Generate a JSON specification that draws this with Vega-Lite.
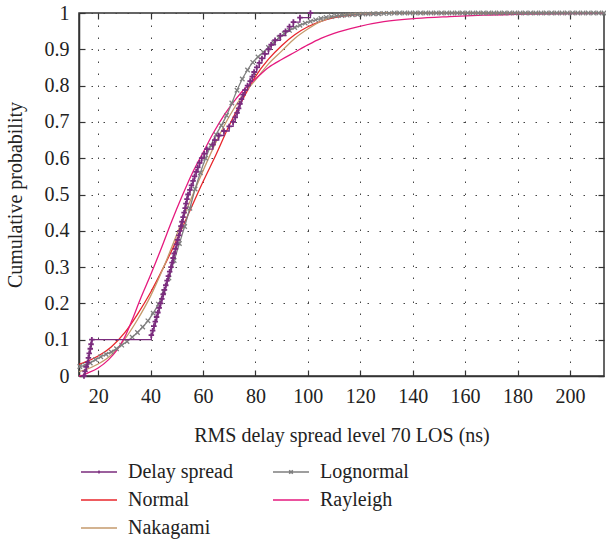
{
  "$schema": "https://vega.github.io/schema/vega-lite/v6.json",
  "width": 525,
  "height": 363,
  "autosize": {"type": "none"},
  "padding": {"left": 79, "top": 13, "right": 2, "bottom": 165},
  "background": "white",
  "config": {
    "view": {"stroke": "#333", "strokeWidth": 1.5},
    "font": "Liberation Serif, serif",
    "axis": {"labelFont": "Liberation Serif, serif", "titleFont": "Liberation Serif, serif", "labelColor": "#222", "titleColor": "#222", "titleFontWeight": "normal", "labelFontSize": 20, "titleFontSize": 20},
    "legend": {"labelFont": "Liberation Serif, serif"}
  },
  "data": {"values": [
    {"s":"Delay spread","x":14.6,"p":0},{"s":"Delay spread","x":15.0,"p":0.0125},{"s":"Delay spread","x":15.5,"p":0.025},{"s":"Delay spread","x":16.0,"p":0.0375},{"s":"Delay spread","x":16.3,"p":0.05},{"s":"Delay spread","x":16.6,"p":0.0625},{"s":"Delay spread","x":17.0,"p":0.075},{"s":"Delay spread","x":17.3,"p":0.0875},{"s":"Delay spread","x":17.6,"p":0.1},
    {"s":"Delay spread","x":40.3,"p":0.1125},{"s":"Delay spread","x":40.8,"p":0.125},{"s":"Delay spread","x":41.3,"p":0.1375},{"s":"Delay spread","x":41.8,"p":0.15},{"s":"Delay spread","x":42.3,"p":0.1625},{"s":"Delay spread","x":42.8,"p":0.175},{"s":"Delay spread","x":43.3,"p":0.1875},{"s":"Delay spread","x":43.8,"p":0.2},
    {"s":"Delay spread","x":44.3,"p":0.2125},{"s":"Delay spread","x":44.8,"p":0.225},{"s":"Delay spread","x":45.3,"p":0.2375},{"s":"Delay spread","x":45.8,"p":0.25},{"s":"Delay spread","x":46.3,"p":0.2625},{"s":"Delay spread","x":46.8,"p":0.275},{"s":"Delay spread","x":47.3,"p":0.2875},{"s":"Delay spread","x":47.8,"p":0.3},
    {"s":"Delay spread","x":48.2,"p":0.3125},{"s":"Delay spread","x":48.6,"p":0.325},{"s":"Delay spread","x":49.0,"p":0.3375},{"s":"Delay spread","x":49.5,"p":0.35},{"s":"Delay spread","x":49.9,"p":0.3625},{"s":"Delay spread","x":50.3,"p":0.375},{"s":"Delay spread","x":50.8,"p":0.3875},{"s":"Delay spread","x":51.2,"p":0.4},
    {"s":"Delay spread","x":51.6,"p":0.4125},{"s":"Delay spread","x":52.0,"p":0.425},{"s":"Delay spread","x":52.4,"p":0.4375},{"s":"Delay spread","x":52.8,"p":0.45},{"s":"Delay spread","x":53.2,"p":0.4625},{"s":"Delay spread","x":53.5,"p":0.475},{"s":"Delay spread","x":53.9,"p":0.4875},{"s":"Delay spread","x":54.3,"p":0.5},
    {"s":"Delay spread","x":55.0,"p":0.5125},{"s":"Delay spread","x":55.6,"p":0.525},{"s":"Delay spread","x":56.2,"p":0.5375},{"s":"Delay spread","x":56.8,"p":0.55},{"s":"Delay spread","x":57.4,"p":0.5625},{"s":"Delay spread","x":58.0,"p":0.575},{"s":"Delay spread","x":58.7,"p":0.5875},{"s":"Delay spread","x":59.5,"p":0.6},
    {"s":"Delay spread","x":60.5,"p":0.6125},{"s":"Delay spread","x":61.5,"p":0.625},{"s":"Delay spread","x":63.8,"p":0.6375},{"s":"Delay spread","x":64.5,"p":0.65},{"s":"Delay spread","x":66.0,"p":0.6625},{"s":"Delay spread","x":68.0,"p":0.675},{"s":"Delay spread","x":70.0,"p":0.6875},{"s":"Delay spread","x":71.5,"p":0.7},
    {"s":"Delay spread","x":72.3,"p":0.7125},{"s":"Delay spread","x":73.0,"p":0.725},{"s":"Delay spread","x":73.6,"p":0.7375},{"s":"Delay spread","x":74.1,"p":0.75},{"s":"Delay spread","x":74.7,"p":0.7625},{"s":"Delay spread","x":75.3,"p":0.775},{"s":"Delay spread","x":76.0,"p":0.7875},{"s":"Delay spread","x":77.0,"p":0.8},
    {"s":"Delay spread","x":78.0,"p":0.8125},{"s":"Delay spread","x":78.8,"p":0.825},{"s":"Delay spread","x":79.5,"p":0.8375},{"s":"Delay spread","x":80.5,"p":0.85},{"s":"Delay spread","x":81.5,"p":0.8625},{"s":"Delay spread","x":82.5,"p":0.875},{"s":"Delay spread","x":83.6,"p":0.8875},{"s":"Delay spread","x":85.0,"p":0.9},
    {"s":"Delay spread","x":86.0,"p":0.9125},{"s":"Delay spread","x":87.5,"p":0.925},{"s":"Delay spread","x":89.5,"p":0.9375},{"s":"Delay spread","x":91.5,"p":0.95},{"s":"Delay spread","x":93.0,"p":0.9625},{"s":"Delay spread","x":94.5,"p":0.975},{"s":"Delay spread","x":97.0,"p":0.9875},{"s":"Delay spread","x":101.0,"p":1.0},

    {"s":"Normal","x":12.7,"p":0.032},{"s":"Normal","x":15,"p":0.038},{"s":"Normal","x":20,"p":0.055},{"s":"Normal","x":25,"p":0.08},{"s":"Normal","x":30,"p":0.118},{"s":"Normal","x":35,"p":0.17},{"s":"Normal","x":40,"p":0.23},{"s":"Normal","x":45,"p":0.3},{"s":"Normal","x":50,"p":0.375},{"s":"Normal","x":55,"p":0.455},{"s":"Normal","x":60,"p":0.535},{"s":"Normal","x":65,"p":0.61},{"s":"Normal","x":70,"p":0.69},{"s":"Normal","x":75,"p":0.76},{"s":"Normal","x":80,"p":0.825},{"s":"Normal","x":85,"p":0.873},{"s":"Normal","x":90,"p":0.91},{"s":"Normal","x":95,"p":0.94},{"s":"Normal","x":100,"p":0.962},{"s":"Normal","x":105,"p":0.977},{"s":"Normal","x":110,"p":0.987},{"s":"Normal","x":115,"p":0.993},{"s":"Normal","x":120,"p":0.996},{"s":"Normal","x":130,"p":0.999},{"s":"Normal","x":140,"p":1.0},{"s":"Normal","x":213,"p":1.0},

    {"s":"Nakagami","x":12.7,"p":0.012},{"s":"Nakagami","x":15,"p":0.017},{"s":"Nakagami","x":20,"p":0.033},{"s":"Nakagami","x":25,"p":0.058},{"s":"Nakagami","x":30,"p":0.1},{"s":"Nakagami","x":35,"p":0.155},{"s":"Nakagami","x":40,"p":0.22},{"s":"Nakagami","x":45,"p":0.3},{"s":"Nakagami","x":50,"p":0.39},{"s":"Nakagami","x":55,"p":0.48},{"s":"Nakagami","x":60,"p":0.565},{"s":"Nakagami","x":65,"p":0.645},{"s":"Nakagami","x":70,"p":0.715},{"s":"Nakagami","x":75,"p":0.772},{"s":"Nakagami","x":80,"p":0.815},{"s":"Nakagami","x":85,"p":0.86},{"s":"Nakagami","x":90,"p":0.895},{"s":"Nakagami","x":95,"p":0.93},{"s":"Nakagami","x":100,"p":0.956},{"s":"Nakagami","x":105,"p":0.977},{"s":"Nakagami","x":110,"p":0.99},{"s":"Nakagami","x":115,"p":0.996},{"s":"Nakagami","x":120,"p":0.999},{"s":"Nakagami","x":130,"p":1.0},{"s":"Nakagami","x":213,"p":1.0},

    {"s":"Rayleigh","x":12.7,"p":0.0},{"s":"Rayleigh","x":14,"p":0.002},{"s":"Rayleigh","x":16,"p":0.008},{"s":"Rayleigh","x":20,"p":0.022},{"s":"Rayleigh","x":24,"p":0.045},{"s":"Rayleigh","x":27,"p":0.07},{"s":"Rayleigh","x":30,"p":0.105},{"s":"Rayleigh","x":33,"p":0.155},{"s":"Rayleigh","x":36,"p":0.21},{"s":"Rayleigh","x":40,"p":0.278},{"s":"Rayleigh","x":44,"p":0.35},{"s":"Rayleigh","x":48,"p":0.425},{"s":"Rayleigh","x":52,"p":0.495},{"s":"Rayleigh","x":56,"p":0.56},{"s":"Rayleigh","x":60,"p":0.615},{"s":"Rayleigh","x":64,"p":0.67},{"s":"Rayleigh","x":68,"p":0.718},{"s":"Rayleigh","x":72,"p":0.758},{"s":"Rayleigh","x":76,"p":0.792},{"s":"Rayleigh","x":80,"p":0.818},{"s":"Rayleigh","x":85,"p":0.85},{"s":"Rayleigh","x":90,"p":0.872},{"s":"Rayleigh","x":95,"p":0.892},{"s":"Rayleigh","x":100,"p":0.912},{"s":"Rayleigh","x":105,"p":0.93},{"s":"Rayleigh","x":110,"p":0.944},{"s":"Rayleigh","x":119,"p":0.962},{"s":"Rayleigh","x":129,"p":0.976},{"s":"Rayleigh","x":141.5,"p":0.985},{"s":"Rayleigh","x":154,"p":0.99},{"s":"Rayleigh","x":167,"p":0.994},{"s":"Rayleigh","x":186,"p":0.997},{"s":"Rayleigh","x":213,"p":0.999},

    {"s":"Lognormal","x":13,"p":0.026},{"s":"Lognormal","x":15,"p":0.03},{"s":"Lognormal","x":17,"p":0.036},{"s":"Lognormal","x":19,"p":0.045},{"s":"Lognormal","x":21,"p":0.053},{"s":"Lognormal","x":23,"p":0.06},{"s":"Lognormal","x":25,"p":0.066},{"s":"Lognormal","x":27,"p":0.075},{"s":"Lognormal","x":29,"p":0.085},{"s":"Lognormal","x":31,"p":0.095},{"s":"Lognormal","x":33,"p":0.107},{"s":"Lognormal","x":35,"p":0.12},{"s":"Lognormal","x":37,"p":0.135},{"s":"Lognormal","x":39,"p":0.152},{"s":"Lognormal","x":41,"p":0.173},{"s":"Lognormal","x":43,"p":0.198},{"s":"Lognormal","x":45,"p":0.232},{"s":"Lognormal","x":47,"p":0.27},{"s":"Lognormal","x":49,"p":0.318},{"s":"Lognormal","x":51,"p":0.365},{"s":"Lognormal","x":53,"p":0.412},{"s":"Lognormal","x":55,"p":0.462},{"s":"Lognormal","x":57,"p":0.515},{"s":"Lognormal","x":59,"p":0.56},{"s":"Lognormal","x":61,"p":0.6},{"s":"Lognormal","x":63,"p":0.635},{"s":"Lognormal","x":65,"p":0.665},{"s":"Lognormal","x":67,"p":0.69},{"s":"Lognormal","x":69,"p":0.718},{"s":"Lognormal","x":71,"p":0.752},{"s":"Lognormal","x":73,"p":0.787},{"s":"Lognormal","x":75,"p":0.818},{"s":"Lognormal","x":77,"p":0.843},{"s":"Lognormal","x":79,"p":0.864},{"s":"Lognormal","x":81,"p":0.879},{"s":"Lognormal","x":83,"p":0.892},{"s":"Lognormal","x":85,"p":0.905},{"s":"Lognormal","x":87,"p":0.918},{"s":"Lognormal","x":89,"p":0.932},{"s":"Lognormal","x":91,"p":0.943},{"s":"Lognormal","x":93,"p":0.952},{"s":"Lognormal","x":95,"p":0.96},{"s":"Lognormal","x":97,"p":0.966},{"s":"Lognormal","x":99,"p":0.972},{"s":"Lognormal","x":101,"p":0.977},{"s":"Lognormal","x":103,"p":0.981},{"s":"Lognormal","x":105,"p":0.985},{"s":"Lognormal","x":107,"p":0.988},{"s":"Lognormal","x":109,"p":0.99},{"s":"Lognormal","x":111,"p":0.992},{"s":"Lognormal","x":113,"p":0.993},{"s":"Lognormal","x":115,"p":0.994},{"s":"Lognormal","x":117,"p":0.995},{"s":"Lognormal","x":119,"p":0.996},{"s":"Lognormal","x":121,"p":0.997},{"s":"Lognormal","x":123,"p":0.997},{"s":"Lognormal","x":125,"p":0.998},{"s":"Lognormal","x":127,"p":0.998},{"s":"Lognormal","x":129,"p":0.999},{"s":"Lognormal","x":131,"p":0.999},
    {"s":"Lognormal","x":133,"p":1},{"s":"Lognormal","x":135,"p":1},{"s":"Lognormal","x":137,"p":1},{"s":"Lognormal","x":139,"p":1},{"s":"Lognormal","x":141,"p":1},{"s":"Lognormal","x":143,"p":1},{"s":"Lognormal","x":145,"p":1},{"s":"Lognormal","x":147,"p":1},{"s":"Lognormal","x":149,"p":1},{"s":"Lognormal","x":151,"p":1},{"s":"Lognormal","x":153,"p":1},{"s":"Lognormal","x":155,"p":1},{"s":"Lognormal","x":157,"p":1},{"s":"Lognormal","x":159,"p":1},{"s":"Lognormal","x":161,"p":1},{"s":"Lognormal","x":163,"p":1},{"s":"Lognormal","x":165,"p":1},{"s":"Lognormal","x":167,"p":1},{"s":"Lognormal","x":169,"p":1},{"s":"Lognormal","x":171,"p":1},{"s":"Lognormal","x":173,"p":1},{"s":"Lognormal","x":175,"p":1},{"s":"Lognormal","x":177,"p":1},{"s":"Lognormal","x":179,"p":1},{"s":"Lognormal","x":181,"p":1},{"s":"Lognormal","x":183,"p":1},{"s":"Lognormal","x":185,"p":1},{"s":"Lognormal","x":187,"p":1},{"s":"Lognormal","x":189,"p":1},{"s":"Lognormal","x":191,"p":1},{"s":"Lognormal","x":193,"p":1},{"s":"Lognormal","x":195,"p":1},{"s":"Lognormal","x":197,"p":1},{"s":"Lognormal","x":199,"p":1},{"s":"Lognormal","x":201,"p":1},{"s":"Lognormal","x":203,"p":1},{"s":"Lognormal","x":205,"p":1},{"s":"Lognormal","x":207,"p":1},{"s":"Lognormal","x":209,"p":1},{"s":"Lognormal","x":211,"p":1},{"s":"Lognormal","x":213,"p":1}
  ]},
  "layer": [
    {
      "transform": [{"filter": "datum.s !== 'Delay spread' && datum.s !== 'Lognormal'"}],
      "mark": {"type": "line", "interpolate": "monotone", "strokeWidth": 1.3},
      "encoding": {
        "x": {"field": "x", "type": "quantitative", "scale": {"domain": [12.7, 213], "nice": false, "zero": false},
          "axis": {"orient": "bottom", "values": [20,40,60,80,100,120,140,160,180,200], "format": "d", "grid": true, "gridDash": [1.5, 10.5], "gridColor": "#444", "gridOpacity": 1, "tickSize": -6, "tickColor": "#333", "tickWidth": 1.2, "domainColor": "#333", "domainWidth": 1.5, "labelPadding": 16, "title": "RMS delay spread level 70 LOS (ns)", "titlePadding": 19}},
        "y": {"field": "p", "type": "quantitative", "scale": {"domain": [0, 1], "nice": false},
          "axis": {"orient": "left", "values": [0,0.1,0.2,0.3,0.4,0.5,0.6,0.7,0.8,0.9,1], "format": "~g", "grid": true, "gridDash": [1.5, 10.5], "gridColor": "#444", "gridOpacity": 1, "tickSize": -6, "tickColor": "#333", "tickWidth": 1.2, "domainColor": "#333", "domainWidth": 1.5, "labelPadding": 16, "title": "Cumulative probability", "titlePadding": 19}},
        "color": {"field": "s", "type": "nominal",
          "scale": {"domain": ["Delay spread", "Lognormal", "Normal", "Rayleigh", "Nakagami"], "range": ["#7B2C7E", "#7F7F7F", "#E8262B", "#E5197E", "#C49A6C"]},
          "legend": {"orient": "none", "legendX": 10, "legendY": 449, "columns": 2, "title": null, "direction": "horizontal",
            "symbolType": "M-3,0H3", "symbolSize": 144, "symbolStrokeWidth": 1.5, "labelFontSize": 20, "labelFont": "Liberation Serif, serif", "labelColor": "#222", "labelOffset": 19, "rowPadding": 8, "columnPadding": 37, "padding": 0,
            "encode": {"symbols": {"update": {
              "shape": {"signal": "datum.value === 'Delay spread' ? 'M-3,0H3M0,-0.25V0.25M-0.25,0H0.25' : (datum.value === 'Lognormal' ? 'M-3,0H3M-0.3,-0.3L0.3,0.3M-0.3,0.3L0.3,-0.3' : 'M-3,0H3')"},
              "fill": {"value": "transparent"},
              "stroke": {"scale": "color", "field": "value"}
            }}}}
        }
      }
    },
    {
      "transform": [{"filter": "datum.s === 'Lognormal'"}],
      "mark": {"type": "line", "interpolate": "monotone", "strokeWidth": 1.3},
      "encoding": {
        "x": {"field": "x", "type": "quantitative", "axis": {"orient": "top", "values": [20,40,60,80,100,120,140,160,180,200], "labels": false, "grid": false, "tickSize": -6, "tickColor": "#333", "tickWidth": 1.2, "domain": false, "title": null}},
        "y": {"field": "p", "type": "quantitative", "axis": {"orient": "right", "values": [0,0.1,0.2,0.3,0.4,0.5,0.6,0.7,0.8,0.9,1], "labels": false, "grid": false, "tickSize": -6, "tickColor": "#333", "tickWidth": 1.2, "domain": false, "title": null}},
        "color": {"field": "s", "type": "nominal"}
      }
    },
    {
      "transform": [{"filter": "datum.s === 'Lognormal'"}],
      "mark": {"type": "point", "shape": "M-1,-1L1,1M-1,1L1,-1", "size": 20, "filled": false, "strokeWidth": 1.3, "opacity": 1},
      "encoding": {
        "x": {"field": "x", "type": "quantitative", "axis": null},
        "y": {"field": "p", "type": "quantitative", "axis": null},
        "color": {"field": "s", "type": "nominal"}
      }
    },
    {
      "transform": [{"filter": "datum.s === 'Delay spread'"}],
      "mark": {"type": "line", "interpolate": "step-after", "strokeWidth": 1.3},
      "encoding": {
        "x": {"field": "x", "type": "quantitative", "axis": null},
        "y": {"field": "p", "type": "quantitative", "axis": null},
        "color": {"field": "s", "type": "nominal"}
      }
    },
    {
      "transform": [{"filter": "datum.s === 'Delay spread'"}],
      "mark": {"type": "point", "shape": "M-1,0H1M0,-1V1", "size": 30, "filled": false, "strokeWidth": 1.8, "opacity": 1},
      "encoding": {
        "x": {"field": "x", "type": "quantitative", "axis": null},
        "y": {"field": "p", "type": "quantitative", "axis": null},
        "color": {"field": "s", "type": "nominal"}
      }
    }
  ],
  "resolve": {"axis": {"x": "independent", "y": "independent"}}
}
